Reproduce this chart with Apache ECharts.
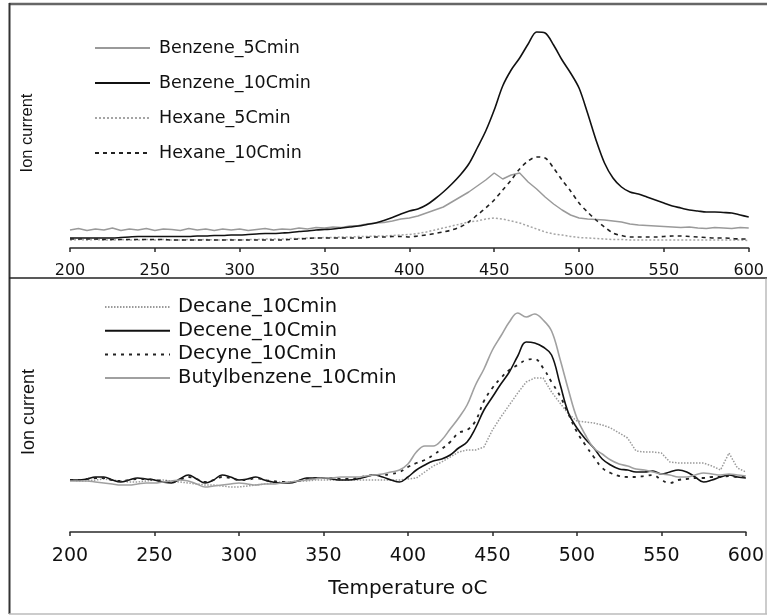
<!DOCTYPE html>
<html>
<head>
<meta charset="utf-8">
<script src="https://cdn.jsdelivr.net/npm/echarts@6/dist/echarts.min.js"></script>
<style>
html,body{margin:0;padding:0;background:#fff;}
#chart{width:767px;height:615px;}
</style>
</head>
<body>
<div id="chart"></div>
<script>
// Temperature grid (°C), shared by both panels
const temps = [];
for (let t = 200; t <= 600; t += 5) temps.push(t);
const xTicks = [200, 250, 300, 350, 400, 450, 500, 550, 600];

// ---- Top panel (ion current, arbitrary units) ----
const benzene5 = [
  18,19.5,17.5,19,18,20,17.5,19,18,19.5,
  17.5,19,18.5,17.5,19.5,18,19,17.5,19,18,
  19,17.5,18.5,19.5,18,19,18.5,20,19,20.5,
  20,21,20.5,22,22.5,24,25,25.5,27,29,
  30,32,35,38,41,46,51,56,62,68,
  75,69,73,75,66,59,51,44,38,33,
  30,29,28.5,28,27,26,24,23,22.5,22,
  21.5,21,20.5,21,20,19.5,20.5,20,19.5,20.5,
  20];
const benzene10 = [
  10,10,10,10,10,10,10.5,11,11.5,11.5,
  11.5,11.5,11.5,11.5,11.5,12,12,12.5,12.5,13,
  13,13.5,14,14.5,14.5,15,15.5,16.5,17,18,
  18.5,19,20,21,22,23.5,25,27.5,30.5,34,
  37,39,43,49,56,64,73,84,100,117,
  138,162,178,190,204,216,215,203,188,175,
  160,135,108,85,70,61,56,54,51,48,
  45,42,40,38,37,36,36,35.5,35,33,
  31];
const hexane5 = [
  8,8.5,8,8.5,8,8,8.5,8,8,8.5,
  8,8.5,8,8,8.5,8,8.5,8,8,8.5,
  8,8.5,8.5,9,9,9,9.5,9.5,10,10,
  10.5,10.5,11,11,11.5,11.5,12,12,12.5,13,
  13.5,14.5,16,18,20,22,24,26,27,29,
  30,29,27,25,22,19,16,14,13,11.5,
  10.5,10,9.5,9,8.5,8.5,8,8,8,8,
  8,8,8,8,8,8,8,8,8,8,
  7.5];
const hexane10 = [
  9,9,9,9,8.5,8.5,8.5,8.5,8.5,8.5,
  8.5,8.5,8,8,8,8,8,8,8,8,
  8,8,8,8,8,8,8.5,9,9.5,10,
  10,10,10,10,10,10.5,11,11,11.5,11.5,
  11,12,13,14.5,16,18,21,26,33,40,
  48,58,68,79,87,91,90,80,68,57,
  45,36,28,21,15,12.5,11,11,11,11,
  11.5,12,12,11.5,11,10.5,10,10,9.5,9,
  9];

// ---- Bottom panel ----
const decane10 = [
  52,51,51,52,53,52,51,50,50,51,
  52,52,51,50,49,48,47,47,46,45,
  45,46,47,48,49,50,50,51,51,52,
  52,52,52,52,52,52,52,52,52,52,
  53,54,60,66,70,75,80,82,82,85,
  102,115,127,139,150,154,154,140,129,118,
  111,110,109,107,104,99,94,81,80,80,
  79,70,69,69,69,69,66,62,79,64,
  60];
const decene10 = [
  52,52,53,55,55,52,50,52,54,53,
  52,50,49,53,57,53,49,52,57,55,
  52,53,55,52,50,49,49,51,54,54,
  54,53,52,52,53,55,57,55,52,50,
  55,62,67,71,73,77,84,90,104,122,
  135,148,160,176,190,189,185,177,148,119,
  104,93,84,73,67,63,62,60,60,61,
  58,60,62,60,55,50,52,55,57,55,
  54];
const decyne10 = [
  52,52,53,54,54,52,51,52,53,53,
  52,51,50,52,55,53,50,52,55,54,
  52,52,54,52,51,50,50,51,53,54,
  54,54,53,53,54,56,57,57,58,60,
  65,69,72,77,83,90,99,102,111,131,
  144,154,162,167,172,173,164,150,136,118,
  100,87,75,64,59,56,55,55,56,57,
  52,49,52,53,54,54,55,55,56,55,
  55];
const butylbenzene10 = [
  51,51,51,50,49,48,47,47,48,49,
  49,50,51,52,51,48,45,46,47,48,
  49,48,47,48,48,49,50,51,52,53,
  54,54,55,55,55,56,57,58,60,62,
  68,80,86,86,92,103,114,127,147,163,
  182,196,210,219,215,218,212,201,173,142,
  114,97,84,78,72,68,66,63,62,60,
  58,57,55,55,57,59,58,57,58,57,
  56];

const topNames = ['Benzene_5Cmin','Benzene_10Cmin','Hexane_5Cmin','Hexane_10Cmin'];
const botNames = ['Decane_10Cmin','Decene_10Cmin','Decyne_10Cmin','Butylbenzene_10Cmin'];

function pairs(vals){ return temps.map((t,i)=>[t, vals[i]]); }

const FONT = 'DejaVu Sans';
const chart = echarts.init(document.getElementById('chart'), null, {renderer:'canvas'});

function xAxisCfg(gridIndex, fs, margin, extra){
  return Object.assign({
    type:'value', gridIndex, min:200, max:600, interval:50,
    axisLine:{show:true, lineStyle:{color:'#2a2a2a', width:1.5}},
    axisTick:{show:true, length:4, lineStyle:{color:'#2a2a2a', width:1.5}},
    axisLabel:{fontFamily:FONT, fontSize:fs, color:'#111', margin},
    splitLine:{show:false}
  }, extra||{});
}
function yAxisCfg(gridIndex, max, nameGap, fs){
  return {
    type:'value', gridIndex, min:0, max,
    name:'Ion current', nameLocation:'middle', nameRotate:90, nameGap,
    nameTextStyle:{fontFamily:'Liberation Sans', fontSize:fs, color:'#111'},
    axisLine:{show:false}, axisTick:{show:false}, axisLabel:{show:false}, splitLine:{show:false}
  };
}
function line(name, vals, xi, color, width, type, smooth){
  return {
    name, type:'line', xAxisIndex:xi, yAxisIndex:xi, data:pairs(vals),
    symbol:'none', showSymbol:false, smooth: smooth||false, animation:false,
    lineStyle:{color, width, type}, itemStyle:{color}
  };
}

chart.setOption({
  animation:false,
  backgroundColor:'#fff',
  grid:[
    {left:70, right:17, top:18, height:230},
    {left:70, right:20, top:292, height:240}
  ],
  xAxis:[
    xAxisCfg(0, 16, 15),
    xAxisCfg(1, 19, 15, {name:'Temperature oC', nameLocation:'middle', nameGap:47,
      nameTextStyle:{fontFamily:FONT, fontSize:20, color:'#111'}})
  ],
  yAxis:[ yAxisCfg(0, 230, 34, 16.5), yAxisCfg(1, 240, 32, 18) ],
  legend:[
    {data:topNames, orient:'vertical', left:94, top:38, padding:0, itemWidth:55, itemHeight:14, itemGap:15,
     selectedMode:false, itemStyle:{opacity:0},
     textStyle:{fontFamily:FONT, fontSize:17.5, color:'#111', lineHeight:20, padding:[0,0,0,4]}},
    {data:botNames, orient:'vertical', left:104, top:296, padding:0, itemWidth:65, itemHeight:14, itemGap:1.7,
     selectedMode:false, itemStyle:{opacity:0},
     textStyle:{fontFamily:FONT, fontSize:19.5, color:'#111', lineHeight:22, padding:[0,0,0,3]}}
  ],
  series:[
    line('Benzene_5Cmin', benzene5, 0, '#9a9a9a', 1.5, 'solid'),
    line('Benzene_10Cmin', benzene10, 0, '#111', 1.6, 'solid', 0.3),
    line('Hexane_5Cmin', hexane5, 0, '#a5a5a5', 1.5, [2,2]),
    line('Hexane_10Cmin', hexane10, 0, '#222', 1.6, [4,4], 0.3),
    line('Decane_10Cmin', decane10, 1, '#9a9a9a', 1.5, [1.5,1.5]),
    line('Decene_10Cmin', decene10, 1, '#111', 1.6, 'solid', 0.4),
    line('Decyne_10Cmin', decyne10, 1, '#222', 1.8, [3,5], 0.4),
    line('Butylbenzene_10Cmin', butylbenzene10, 1, '#a0a0a0', 1.6, 'solid', 0.4)
  ],
  graphic:[
    {type:'line', shape:{x1:9, y1:4, x2:767, y2:4}, style:{stroke:'#666', lineWidth:2.5}, silent:true},
    {type:'line', shape:{x1:9.5, y1:3, x2:9.5, y2:614}, style:{stroke:'#333', lineWidth:2}, silent:true},
    {type:'line', shape:{x1:9, y1:278, x2:767, y2:278}, style:{stroke:'#222', lineWidth:1.5}, silent:true},
    {type:'line', shape:{x1:766, y1:278, x2:766, y2:614}, style:{stroke:'#999', lineWidth:1}, silent:true},
    {type:'line', shape:{x1:9, y1:614, x2:767, y2:614}, style:{stroke:'#bbb', lineWidth:1.5}, silent:true}
  ]
});
</script>
</body>
</html>
